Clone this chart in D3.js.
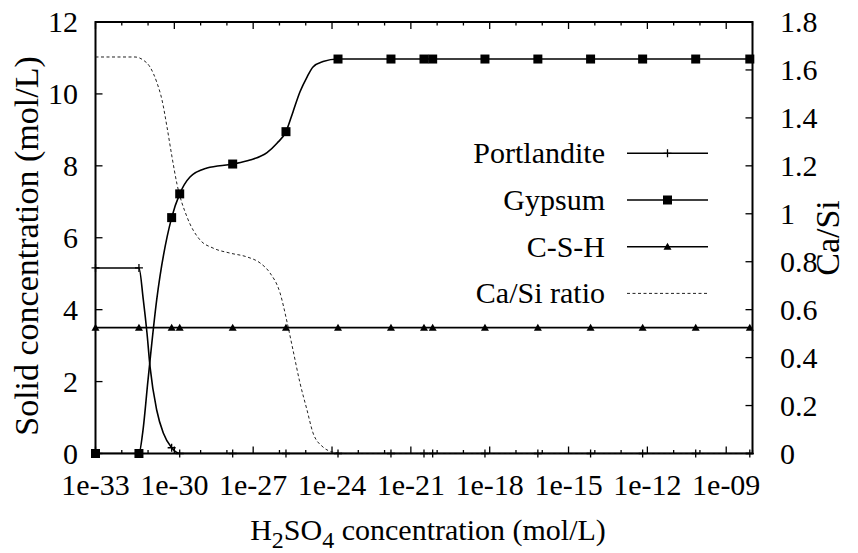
<!DOCTYPE html>
<html>
<head>
<meta charset="utf-8">
<script src="https://cdn.jsdelivr.net/npm/d3@7"></script>
<style>
  html, body { margin: 0; padding: 0; background: #fff; }
  svg { display: block; }
</style>
</head>
<body>
<svg id="chart" width="858" height="553" font-family="'Liberation Serif', Tinos, 'Times New Roman', Times, 'DejaVu Serif', serif"></svg>
<script>
// ---------- DATA ----------
// x positions (H2SO4 concentration, mol/L) where markers are drawn
const markerConc = [1e-33, 4.5e-32, 7.9e-31, 1.6e-30, 1.66e-28, 1.77e-26, 1.69e-24, 1.75e-22,
  3.16e-21, 6.76e-21, 6.6e-19, 6.8e-17, 6.9e-15, 6.6e-13, 6.9e-11, 7.9e-9];
const portlanditeMarkers = [5.16, 5.16, 0.16, 0, 0, 0, 0, 0, 0, 0, 0, 0, 0, 0, 0, 0];
const gypsumMarkers = [0, 0, 6.56, 7.22, 8.05, 8.95, 10.97, 10.97, 10.97, 10.97, 10.97, 10.97, 10.97, 10.97, 10.97, 10.97];
const cshMarkers = [3.5, 3.5, 3.5, 3.5, 3.5, 3.5, 3.5, 3.5, 3.5, 3.5, 3.5, 3.5, 3.5, 3.5, 3.5, 3.5];

// dense curves
const portlanditeLineConc = [1e-33, 4.5e-32, 6.6e-32, 9.1e-32, 1.19e-31, 2.13e-31, 3.8e-31, 7.9e-31, 1.6e-30, 7.9e-9];
const portlanditeLineVal  = [5.16, 5.16, 4.27, 3.35, 2.41, 1.21, 0.57, 0.16, 0, 0];

const gypsumLineConc = [1e-33, 4.5e-32, 6.25e-32, 9.95e-32, 2.13e-31, 7.9e-31, 1.6e-30, 3.94e-30, 1.75e-29,
  1.66e-28, 7.57e-28, 3.36e-27, 8.05e-27, 1.77e-26, 3.27e-26, 6.05e-26, 1.12e-25, 1.89e-25, 4.54e-25, 1.69e-24, 7.9e-9];
const gypsumLineVal = [0, 0, 0.58, 2.04, 4.27, 6.56, 7.22, 7.69, 7.94,
  8.05, 8.16, 8.37, 8.63, 8.95, 9.5, 10.06, 10.47, 10.75, 10.9, 10.97, 10.97];

const cshLineConc = [1e-33, 7.9e-9];
const cshLineVal = [3.5, 3.5];

const ratioConc = [1e-33, 3.18e-32, 6.4e-32, 1.19e-31, 2.19e-31, 3.39e-31, 5.26e-31, 8.15e-31, 1.26e-30,
  3.03e-30, 9.46e-30, 2.96e-29, 1.31e-28, 5.82e-28, 1.82e-27, 4.37e-27, 1.05e-26, 1.94e-26, 3.27e-26,
  6.05e-26, 1.12e-25, 1.89e-25, 4.54e-25, 1.09e-24, 3.12e-24, 7.9e-9];
const ratioVal = [1.654, 1.654, 1.642, 1.612, 1.546, 1.475, 1.362, 1.237, 1.124,
  0.987, 0.891, 0.857, 0.836, 0.820, 0.795, 0.753, 0.670, 0.549, 0.432,
  0.294, 0.181, 0.086, 0.027, 0.006, 0, 0];

// ticks
const xMajorTicks = [1e-33, 1e-30, 1e-27, 1e-24, 1e-21, 1e-18, 1e-15, 1e-12, 1e-9];
const xTickLabels = ["1e-33", "1e-30", "1e-27", "1e-24", "1e-21", "1e-18", "1e-15", "1e-12", "1e-09"];
const yTicks = [0, 2, 4, 6, 8, 10, 12];
const y2Ticks = [0, 0.2, 0.4, 0.6, 0.8, 1.0, 1.2, 1.4, 1.6, 1.8];
const y2TickLabels = ["0", "0.2", "0.4", "0.6", "0.8", "1", "1.2", "1.4", "1.6", "1.8"];
const legendLabels = ["Portlandite", "Gypsum", "C-S-H", "Ca/Si ratio"];

// ---------- LAYOUT ----------
const L = 95.5, R = 752.5, T = 22, B = 453.5;
const FS = 30;
const FS_ROT = 34;
const svg = d3.select("#chart");

const x = d3.scaleLog().domain([1e-33, 1e-8]).range([L, R]);
const y = d3.scaleLinear().domain([0, 12]).range([B, T]);
const y2 = d3.scaleLinear().domain([0, 1.8]).range([B, T]);

// minor x ticks each decade
const xMinor = d3.range(-33, -7).map(e => Math.pow(10, e));

const axisG = svg.append("g").attr("stroke", "#000").attr("stroke-width", 1.3);
xMinor.forEach(v => {
  const isMajor = xMajorTicks.some(m => Math.abs(Math.log10(m) - Math.log10(v)) < 1e-6);
  const len = isMajor ? 7 : 3.5;
  const px = x(v);
  axisG.append("line").attr("x1", px).attr("x2", px).attr("y1", B).attr("y2", B - len);
  axisG.append("line").attr("x1", px).attr("x2", px).attr("y1", T).attr("y2", T + len);
});
yTicks.forEach(v => {
  axisG.append("line").attr("x1", L).attr("x2", L + 7).attr("y1", y(v)).attr("y2", y(v));
});
y2Ticks.forEach(v => {
  axisG.append("line").attr("x1", R).attr("x2", R - 7).attr("y1", y2(v)).attr("y2", y2(v));
});

// border
svg.append("rect").attr("x", L).attr("y", T).attr("width", R - L).attr("height", B - T)
  .attr("fill", "none").attr("stroke", "#000").attr("stroke-width", 2);

// tick labels
xMajorTicks.forEach((v, i) => {
  svg.append("text").attr("x", x(v)).attr("y", 495).attr("text-anchor", "middle")
    .attr("font-size", FS).text(xTickLabels[i]);
});
yTicks.forEach(v => {
  svg.append("text").attr("x", 78).attr("y", y(v) + 10).attr("text-anchor", "end")
    .attr("font-size", FS).text(v);
});
y2Ticks.forEach((v, i) => {
  svg.append("text").attr("x", 780).attr("y", y2(v) + 10).attr("text-anchor", "start")
    .attr("font-size", FS).text(y2TickLabels[i]);
});

// axis titles
svg.append("text").attr("transform", `translate(38,246) rotate(-90)`)
  .attr("text-anchor", "middle").attr("font-size", FS_ROT).text("Solid concentration (mol/L)");
svg.append("text").attr("transform", `translate(839,238) rotate(-90)`)
  .attr("text-anchor", "middle").attr("font-size", FS_ROT).text("Ca/Si");
const xt = svg.append("text").attr("x", 428).attr("y", 540).attr("text-anchor", "middle")
  .attr("font-size", FS);
xt.append("tspan").text("H");
xt.append("tspan").attr("font-size", FS * 0.8).attr("dy", 8).text("2");
xt.append("tspan").attr("dy", -8).text("SO");
xt.append("tspan").attr("font-size", FS * 0.8).attr("dy", 8).text("4");
xt.append("tspan").attr("dy", -8).text(" concentration (mol/L)");

// ---------- DATA LINES ----------
svg.append("defs").append("clipPath").attr("id", "clip")
  .append("rect").attr("x", L).attr("y", T - 6).attr("width", R - L).attr("height", B - T + 6);
const plotG = svg.append("g").attr("clip-path", "url(#clip)");

const lineY = d3.line().x(d => x(d[0])).y(d => y(d[1])).curve(d3.curveMonotoneX);
const lineY2 = d3.line().x(d => x(d[0])).y(d => y2(d[1])).curve(d3.curveMonotoneX);

const zip = (a, b) => a.map((v, i) => [v, b[i]]);

plotG.append("path").datum(zip(ratioConc, ratioVal)).attr("d", lineY2)
  .attr("fill", "none").attr("stroke", "#222").attr("stroke-width", 1)
  .attr("stroke-dasharray", "3,2.5");
plotG.append("path").datum(zip(cshLineConc, cshLineVal)).attr("d", lineY)
  .attr("fill", "none").attr("stroke", "#000").attr("stroke-width", 1.6);
plotG.append("path").datum(zip(portlanditeLineConc, portlanditeLineVal)).attr("d", lineY)
  .attr("fill", "none").attr("stroke", "#000").attr("stroke-width", 1.6);
plotG.append("path").datum(zip(gypsumLineConc, gypsumLineVal)).attr("d", lineY)
  .attr("fill", "none").attr("stroke", "#000").attr("stroke-width", 1.6);

// markers
const markG = svg.append("g");
function plus(g, cx, cy) {
  g.append("path").attr("d", `M${cx - 4},${cy}H${cx + 4}M${cx},${cy - 4}V${cy + 4}`)
    .attr("stroke", "#000").attr("stroke-width", 1.3).attr("fill", "none");
}
function square(g, cx, cy) {
  g.append("rect").attr("x", cx - 4.5).attr("y", cy - 4.5).attr("width", 9).attr("height", 9).attr("fill", "#000");
}
function tri(g, cx, cy) {
  g.append("path").attr("d", `M${cx - 4},${cy + 3}L${cx + 4},${cy + 3}L${cx},${cy - 4}Z`).attr("fill", "#000");
}
markerConc.forEach((c, i) => {
  plus(markG, x(c), y(portlanditeMarkers[i]));
  square(markG, x(c), y(gypsumMarkers[i]));
  tri(markG, x(c), y(cshMarkers[i]));
});

// ---------- LEGEND ----------
const legG = svg.append("g");
const markerFns = [plus, square, tri, null];
legendLabels.forEach((lab, i) => {
  const ly = 153.3 + i * 46.7;
  legG.append("text").attr("x", 605).attr("y", ly + 10).attr("text-anchor", "end")
    .attr("font-size", FS).text(lab);
  const ln = legG.append("line").attr("x1", 627).attr("x2", 708).attr("y1", ly).attr("y2", ly)
    .attr("stroke", i === 3 ? "#222" : "#000").attr("stroke-width", i === 3 ? 1 : 1.6);
  if (i === 3) ln.attr("stroke-dasharray", "3,2.5");
  if (markerFns[i]) markerFns[i](legG, 667.5, ly);
});
</script>
</body>
</html>
